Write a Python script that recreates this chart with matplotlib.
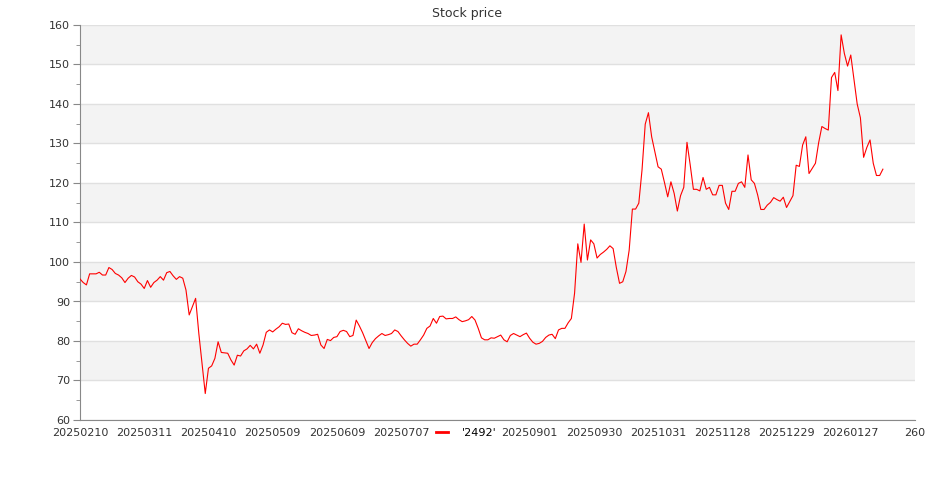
import numpy as np
import matplotlib
matplotlib.use('Agg')
import matplotlib.pyplot as plt
from matplotlib.ticker import MultipleLocator

# closing prices, one per trading day
price = [
    95.7, 94.8, 94.2, 97.0, 97.0, 97.0, 97.4, 96.7, 96.7, 98.6,
    98.1, 97.1, 96.7, 96.0, 94.8, 95.9, 96.6, 96.2, 95.0, 94.4,
    93.3, 95.3, 93.6, 94.8, 95.4, 96.3, 95.4, 97.3, 97.6, 96.5,
    95.6, 96.3, 95.9, 92.9, 86.6, 88.7, 90.8, 81.9, 74.3, 66.7,
    73.1, 73.7, 75.6, 79.8, 77.1, 77.0, 76.9, 75.2, 73.9, 76.4,
    76.2, 77.5, 78.0, 78.9, 78.0, 79.2, 76.9, 79.0, 82.2, 82.8,
    82.3, 83.0, 83.6, 84.5, 84.2, 84.3, 82.1, 81.7, 83.1, 82.6,
    82.2, 81.9, 81.4, 81.5, 81.7, 79.0, 78.1, 80.4, 80.1, 80.9,
    81.1, 82.4, 82.7, 82.4, 81.1, 81.4, 85.3, 83.8, 82.1, 80.1,
    78.1, 79.6, 80.6, 81.3, 81.9, 81.4, 81.6, 81.9, 82.8, 82.4,
    81.3, 80.3, 79.4, 78.7, 79.2, 79.2, 80.3, 81.5, 83.2, 83.8,
    85.7, 84.5, 86.2, 86.3, 85.6, 85.7, 85.7, 86.1, 85.4, 84.9,
    85.1, 85.4, 86.2, 85.3, 83.2, 80.8, 80.3, 80.3, 80.8, 80.7,
    81.1, 81.5, 80.3, 79.8, 81.4, 81.9, 81.5, 81.1, 81.6, 82.0,
    80.7, 79.7, 79.2, 79.4, 79.9, 80.9, 81.5, 81.7, 80.6, 82.8,
    83.2, 83.2, 84.6, 85.7, 92.1, 104.6, 99.9, 109.6, 100.5, 105.6,
    104.6, 101.0, 101.9, 102.5, 103.2, 104.1, 103.4, 98.6, 94.6, 95.0,
    97.6, 103.0, 113.4, 113.4, 114.9, 123.3, 134.9, 137.8, 131.7, 127.9,
    124.1, 123.5, 120.1, 116.5, 120.3, 117.4, 112.9, 116.8, 118.9, 130.3,
    124.6, 118.4, 118.4, 118.0, 121.4, 118.4, 118.9, 117.0, 117.0, 119.4,
    119.4, 114.9, 113.3, 117.9, 117.9, 119.9, 120.3, 118.9, 127.1, 120.8,
    119.9, 117.0, 113.3, 113.3, 114.4, 115.1, 116.3, 115.8, 115.4, 116.4,
    113.8, 115.3, 116.8, 124.5, 124.2, 129.6, 131.7, 122.4, 123.7, 125.0,
    130.2, 134.3, 133.8, 133.4, 146.7, 148.0, 143.4, 157.5, 152.8, 149.6,
    152.4, 146.1, 140.0, 136.5, 126.5, 129.0, 130.9, 125.0, 121.9, 121.9,
    123.5,
]

tick_pos = list(range(0, 261, 20))
# the label at 120 sits under the legend in the reference
tick_labels = ['20250210', '20250311', '20250410', '20250509', '20250609',
               '20250707', '', '20250901', '20250930', '20251031',
               '20251128', '20251229', '20260127', '260']

fig = plt.figure(figsize=(9.35, 5), dpi=100)
ax = fig.add_axes([80 / 935, 80 / 500, 835 / 935, 395 / 500])

x = np.arange(len(price))
ax.plot(x, price, color='red', lw=0.8, label="'2492'", zorder=3)

ax.set_xlim(0, 260)
ax.set_ylim(60, 160)

# alternating bands
for lo in range(70, 160, 20):
    ax.axhspan(lo, lo + 10, color='#f3f3f3', zorder=0, lw=0)
ax.yaxis.set_major_locator(MultipleLocator(10))
ax.yaxis.set_minor_locator(MultipleLocator(5))
ax.grid(axis='y', which='major', color='#e0e0e0', lw=1, zorder=1)
ax.set_axisbelow(True)

ax.set_xticks(tick_pos)
ax.set_xticklabels(tick_labels)
ax.tick_params(axis='x', length=0, pad=6, labelsize=8, labelcolor='#333333')
ax.tick_params(axis='y', which='major', length=5, color='#888888',
               labelsize=8, labelcolor='#333333', pad=2)
ax.tick_params(axis='y', which='minor', length=3, color='#888888')

for s in ['top', 'right']:
    ax.spines[s].set_visible(False)
for s in ['left', 'bottom']:
    ax.spines[s].set_color('#888888')

fig.suptitle('Stock price', x=0.5, y=0.985, fontsize=9, color='#333333')

leg = ax.legend(loc='center', bbox_to_anchor=(0.463, -0.033), frameon=True,
                fontsize=8, handlelength=1.0, handletextpad=1.3,
                borderpad=0.3, fancybox=False)
leg.get_frame().set_facecolor('white')
leg.get_frame().set_edgecolor('none')
leg.get_frame().set_alpha(1)
leg.set_zorder(10)
for ln in leg.get_lines():
    ln.set_linewidth(2)

fig.savefig('out.png', dpi=100)
